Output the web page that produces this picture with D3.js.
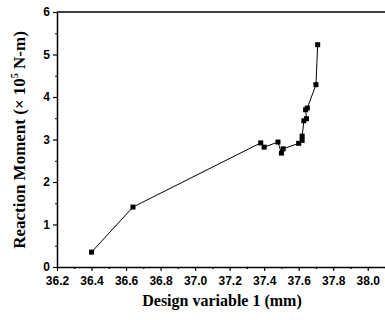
<!DOCTYPE html>
<html><head><meta charset="utf-8">
<script src="https://cdn.jsdelivr.net/npm/d3@7"></script>
<style>html,body{margin:0;padding:0;background:#fff;}svg{display:block;}</style>
</head><body>
<svg id="c" width="385" height="320"></svg>
<script>
const designVar = [36.40, 36.64, 37.38, 37.40, 37.48, 37.50, 37.51, 37.60, 37.62, 37.62, 37.63, 37.645, 37.64, 37.65, 37.70, 37.71];
const moment    = [0.35, 1.41, 2.92, 2.82, 2.94, 2.68, 2.78, 2.91, 2.98, 3.08, 3.44, 3.49, 3.70, 3.74, 4.29, 5.23];
const xTicks = [36.2, 36.4, 36.6, 36.8, 37.0, 37.2, 37.4, 37.6, 37.8, 38.0];
const yTicks = [0, 1, 2, 3, 4, 5, 6];
const xTitle = "Design variable 1 (mm)";

const svg = d3.select("#c");
const L = 57, R = 385, T = 12, B = 267;
const x = d3.scaleLinear().domain([36.2, 38.1]).range([L, R]);
const y = d3.scaleLinear().domain([0, 6]).range([B, T]);

// frame
svg.append("line").attr("x1", L).attr("x2", R).attr("y1", T).attr("y2", T).attr("stroke", "#000").attr("stroke-width", 1.5);

const tickFont = "bold 12px 'Liberation Sans', Arial, sans-serif";

svg.append("g").attr("transform", `translate(0,${B})`)
  .call(d3.axisBottom(x).tickValues(xTicks).tickFormat(d3.format(".1f")).tickSize(4).tickPadding(5).tickSizeOuter(0));
svg.append("g").attr("transform", `translate(0,${B})`)
  .call(d3.axisBottom(x).tickValues(d3.range(36.3, 38.1, 0.2)).tickFormat("").tickSize(2).tickSizeOuter(0))
  .select(".domain").remove();
svg.append("g").attr("transform", `translate(${L},0)`)
  .call(d3.axisLeft(y).tickValues(yTicks).tickFormat(d3.format("d")).tickSize(4).tickPadding(3).tickSizeOuter(0));
svg.append("g").attr("transform", `translate(${L},0)`)
  .call(d3.axisLeft(y).tickValues(d3.range(0.5, 6, 1)).tickFormat("").tickSize(2).tickSizeOuter(0))
  .select(".domain").remove();

svg.selectAll(".domain").attr("stroke-width", 1.5);
svg.selectAll(".tick line").attr("stroke-width", 1.2);
svg.selectAll(".tick text").style("font", tickFont).attr("fill", "#000");

// line
const line = d3.line().x((d, i) => x(designVar[i])).y((d, i) => y(moment[i]));
svg.append("path").datum(moment).attr("d", line).attr("fill", "none").attr("stroke", "#000").attr("stroke-width", 1);

// markers
svg.selectAll("rect.m").data(moment).enter().append("rect").attr("class", "m")
  .attr("x", (d, i) => x(designVar[i]) - 2.5).attr("y", d => y(d) - 2.5)
  .attr("width", 5).attr("height", 5).attr("fill", "#000");

// titles
svg.append("text").attr("x", 222).attr("y", 306).attr("text-anchor", "middle")
  .style("font", "bold 16px 'Liberation Serif', 'Times New Roman', serif").text(xTitle);

const yt = svg.append("text").attr("transform", "translate(25,140) rotate(-90)").attr("text-anchor", "middle")
  .style("font", "bold 17px 'Liberation Serif', 'Times New Roman', serif");
yt.append("tspan").text("Reaction Moment (× 10");
yt.append("tspan").attr("dy", -7).style("font-size", "10px").text("5");
yt.append("tspan").attr("dy", 7).text(" N-m)");
</script>
</body></html>
